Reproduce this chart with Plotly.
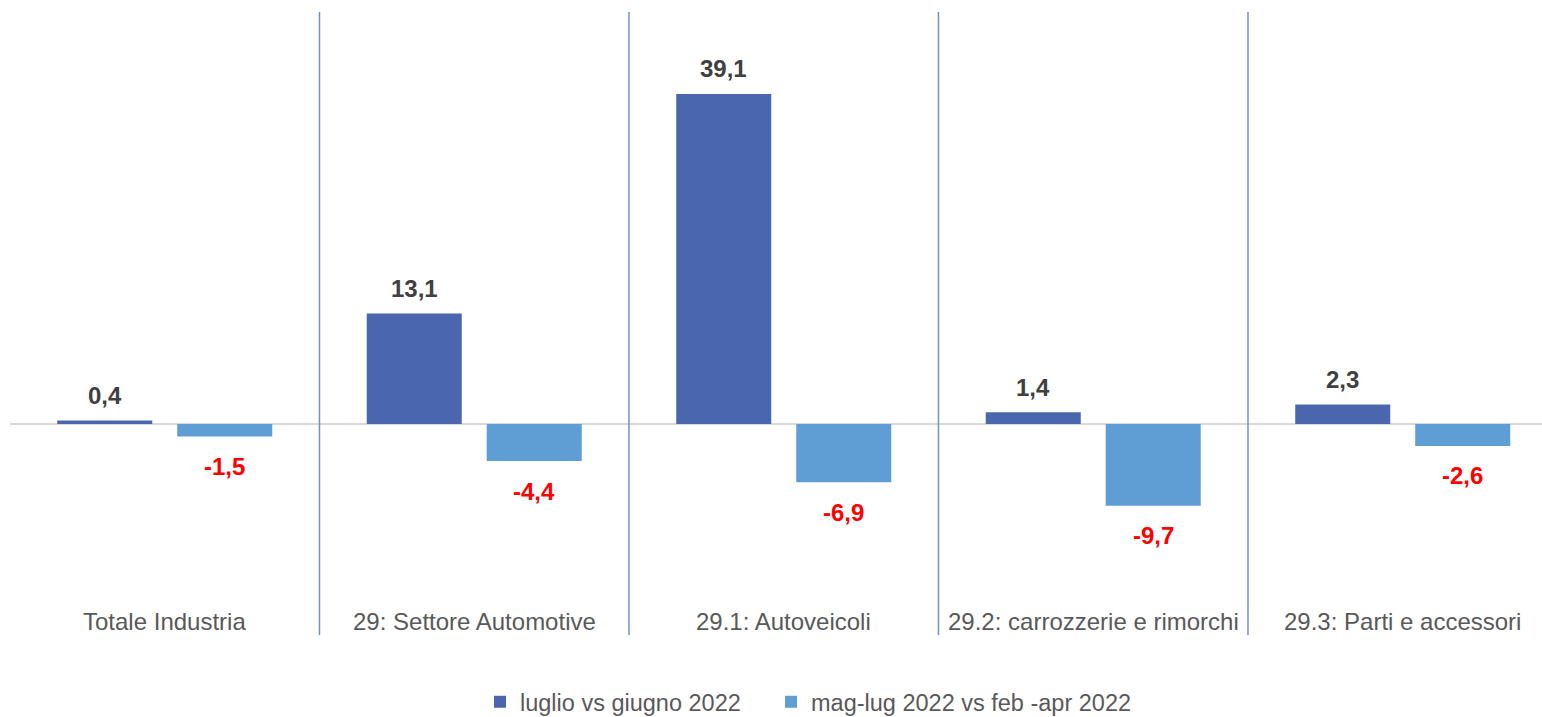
import plotly.graph_objects as go

categories = ["Totale Industria", "29: Settore Automotive", "29.1: Autoveicoli",
              "29.2: carrozzerie e rimorchi", "29.3: Parti e accessori"]
series_names = ["luglio vs giugno 2022", "mag-lug 2022 vs feb -apr 2022"]
luglio_vs_giugno = [0.4, 13.1, 39.1, 1.4, 2.3]
maglug_vs_febapr = [-1.5, -4.4, -6.9, -9.7, -2.6]

DARK = "#4A67AD"
LIGHT = "#5F9ED4"
FONT = "Liberation Sans, Arial, sans-serif"

def fmt(v):
    return f"{v:.1f}".replace(".", ",")

fig = go.Figure()
fig.add_trace(go.Bar(x=categories, y=luglio_vs_giugno, name=series_names[0],
                     marker=dict(color=DARK, line=dict(width=0)), legend="legend"))
fig.add_trace(go.Bar(x=categories, y=maglug_vs_febapr, name=series_names[1],
                     marker=dict(color=LIGHT, line=dict(width=0)), legend="legend2"))

annotations = []
for c, v in zip(categories, luglio_vs_giugno):
    annotations.append(dict(x=c, y=v, xref="x", yref="y", text=fmt(v), showarrow=False,
                            xshift=-60, yshift=25, yanchor="middle",
                            font=dict(family=FONT, size=24, color="#404040", weight="bold")))
for c, v in zip(categories, maglug_vs_febapr):
    annotations.append(dict(x=c, y=v, xref="x", yref="y", text=fmt(v), showarrow=False,
                            xshift=60, yshift=-30, yanchor="middle",
                            font=dict(family=FONT, size=24, color="#FF0000", weight="bold")))
for c in categories:
    annotations.append(dict(x=c, y=-23.4, xref="x", yref="y", text=c, showarrow=False,
                            yanchor="middle",
                            font=dict(family=FONT, size=24, color="#595959")))

shapes = []
for i in range(len(categories) - 1):
    shapes.append(dict(type="line", xref="x", yref="paper", x0=i + 0.5, x1=i + 0.5,
                       y0=0.008, y1=0.997, line=dict(color="#7090CC", width=1.5)))

legend_common = dict(orientation="h", xref="container", yref="container",
                     xanchor="left", y=(717 - 702) / 717, yanchor="middle",
                     font=dict(family=FONT, size=23.5, color="#595959"), itemwidth=30)

fig.update_layout(
    width=1542, height=717,
    margin=dict(l=10, r=0, t=10, b=77),
    paper_bgcolor="white", plot_bgcolor="white",
    barmode="group", bargap=0.2246, bargroupgap=0.208,
    showlegend=True,
    legend=dict(x=480 / 1542, **legend_common),
    legend2=dict(x=771 / 1542, **legend_common),
    annotations=annotations,
    shapes=shapes,
    font=dict(family=FONT),
)
fig.update_xaxes(range=[-0.5, 4.45], showticklabels=False, showgrid=False,
                 zeroline=False, showline=False, ticks="")
fig.update_yaxes(range=[-25.6, 49.05], showticklabels=False, showgrid=False,
                 zeroline=True, zerolinecolor="#D9D9D9", zerolinewidth=1.5,
                 showline=False, ticks="")

fig.write_html("out.html", config={"displayModeBar": False},
               post_script="document.body.style.margin='0';")
